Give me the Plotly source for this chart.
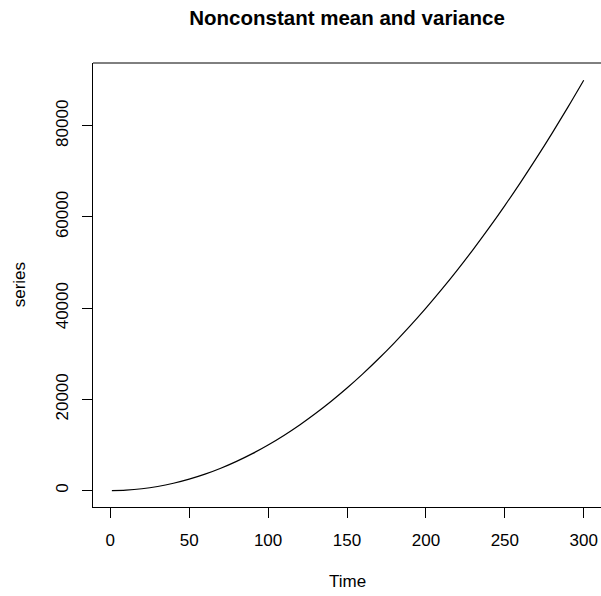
import plotly.graph_objects as go

time = [1, 10, 20, 30, 40, 50, 60, 70, 80, 90, 100, 110, 120, 130, 140, 150,
        160, 170, 180, 190, 200, 210, 220, 230, 240, 250, 260, 270, 280, 290, 300]
series = [1, 100, 400, 900, 1600, 2500, 3600, 4900, 6400, 8100, 10000, 12100,
          14400, 16900, 19600, 22500, 25600, 28900, 32400, 36100, 40000, 44100,
          48400, 52900, 57600, 62500, 67600, 72900, 78400, 84100, 90000]
x_ticks = [0, 50, 100, 150, 200, 250, 300]
y_ticks = [0, 20000, 40000, 60000, 80000]

FONT = "Liberation Sans, Arial, Helvetica, sans-serif"

fig = go.Figure()
fig.add_trace(go.Scatter(x=time, y=series, mode="lines",
                         line=dict(color="black", width=1.2, shape="spline"),
                         showlegend=False, hoverinfo="skip"))

W, H = 601, 596
L, T, B = 93, 63, 88.5
plot_w = W - L
plot_h = H - T - B

fig.update_layout(
    width=W, height=H,
    margin=dict(l=L, r=0, t=T, b=B, pad=0),
    paper_bgcolor="white", plot_bgcolor="white",
    font=dict(family=FONT, size=17, color="black"),
    title=dict(text="<b>Nonconstant mean and variance</b>", x=0.5,
               xref="paper", xanchor="center", y=1 - 18 / H, yref="container",
               yanchor="middle", font=dict(size=20.5, family=FONT, color="black")),
    xaxis=dict(range=[-10.96, 310.95], tickvals=x_ticks, ticktext=[str(v) for v in x_ticks],
               showgrid=False, zeroline=False, showline=True, linecolor="black", linewidth=1,
               ticks="outside", ticklen=10, tickwidth=1, tickcolor="black",
               ticklabelstandoff=8, tickfont=dict(size=17)),
    yaxis=dict(range=[-3600, 93770], tickvals=y_ticks, ticktext=[str(v) for v in y_ticks],
               showgrid=False, zeroline=False, showline=True, linecolor="black", linewidth=1,
               ticks="outside", ticklen=10, tickwidth=1, tickcolor="black",
               tickangle=-90, ticklabelstandoff=7, tickfont=dict(size=17)),
    shapes=[dict(type="line", xref="paper", yref="paper", x0=0, x1=1, y0=1, y1=1,
                 line=dict(color="black", width=1))],
    annotations=[
        dict(text="Time", xref="paper", yref="paper", x=0.5, y=-74.5 / plot_h,
             xanchor="center", yanchor="middle", showarrow=False, font=dict(size=17)),
        dict(text="series", xref="paper", yref="paper", x=-(93 - 19.3) / plot_w, y=0.5,
             textangle=-90, xanchor="center", yanchor="middle", showarrow=False,
             font=dict(size=17)),
    ],
)

fig.write_html("out.html",
               config={"displayModeBar": False},
               post_script="document.body.style.margin='0';document.body.style.overflow='hidden';")
